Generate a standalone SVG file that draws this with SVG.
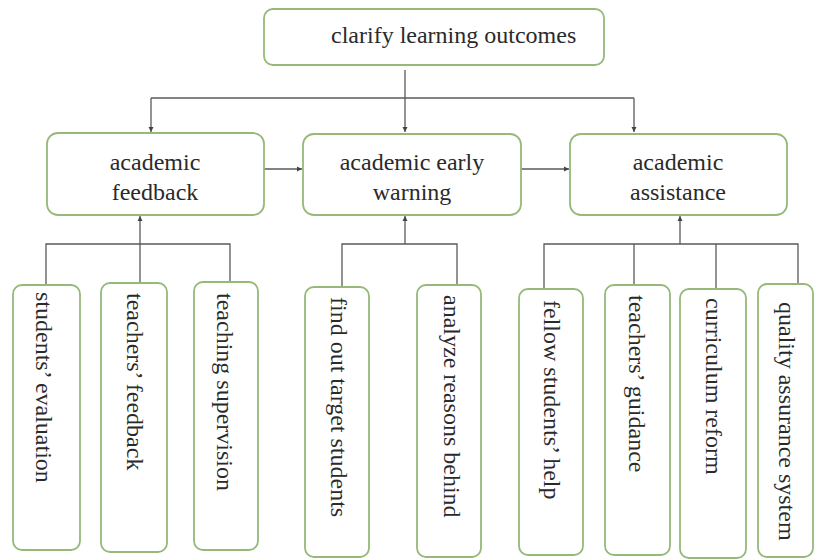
<svg xmlns="http://www.w3.org/2000/svg" width="815" height="559" viewBox="0 0 815 559">
<defs>
<marker id="arr" markerUnits="userSpaceOnUse" markerWidth="6" markerHeight="6" refX="5" refY="3" orient="auto">
<path d="M0,0.5 L5,3 L0,5.5 Z" fill="#444"/>
</marker>
<style>
.box{fill:#fff;stroke:#96b97a;stroke-width:1.8}
.c{fill:none;stroke:#5a5a5a;stroke-width:1.3}
.t{font-family:"Liberation Serif","Times New Roman",serif;font-size:24px;fill:#2a2a2a}
.m{text-anchor:middle}
</style>
</defs>
<rect width="815" height="559" fill="#fff"/>
<g id="connectors">
<path class="c" d="M405,70 V132" marker-end="url(#arr)"/>
<path class="c" d="M151,98 H634"/>
<path class="c" d="M151,98 V132" marker-end="url(#arr)"/>
<path class="c" d="M634,98 V132" marker-end="url(#arr)"/>
<path class="c" d="M264,169 H302" marker-end="url(#arr)"/>
<path class="c" d="M521,169 H569" marker-end="url(#arr)"/>
<path class="c" d="M46,285 V244 H230 V282"/>
<path class="c" d="M140,283 V216" marker-end="url(#arr)"/>
<path class="c" d="M342,287 V244 H457 V285"/>
<path class="c" d="M405,244 V216" marker-end="url(#arr)"/>
<path class="c" d="M544,289 V244 H798 V285"/>
<path class="c" d="M634,244 V285"/>
<path class="c" d="M716,244 V289"/>
<path class="c" d="M680,244 V216" marker-end="url(#arr)"/>
</g>
<g id="n-clarify"><rect class="box" x="264" y="9" width="340" height="56" rx="9"/><text class="t" x="331" y="43">clarify learning outcomes</text></g>
<g id="n-feedback"><rect class="box" x="47" y="133" width="217" height="82" rx="11"/><text class="t m" x="155" y="170">academic</text><text class="t m" x="155" y="200">feedback</text></g>
<g id="n-warning"><rect class="box" x="303" y="134" width="218" height="81" rx="11"/><text class="t m" x="412" y="170">academic early</text><text class="t m" x="412" y="200">warning</text></g>
<g id="n-assistance"><rect class="box" x="570" y="134" width="217" height="81" rx="11"/><text class="t m" x="678" y="170">academic</text><text class="t m" x="678" y="200">assistance</text></g>
<g id="n-l1"><rect class="box" x="13" y="285" width="67" height="265" rx="9"/><text class="t" transform="translate(36,292) rotate(90)">students’ evaluation</text></g>
<g id="n-l2"><rect class="box" x="101" y="283" width="66" height="269" rx="9"/><text class="t" transform="translate(127,293) rotate(90)">teachers’ feedback</text></g>
<g id="n-l3"><rect class="box" x="194" y="282" width="64" height="268" rx="9"/><text class="t" transform="translate(217,293) rotate(90)">teaching supervision</text></g>
<g id="n-l4"><rect class="box" x="305" y="287" width="64" height="270" rx="9"/><text class="t" transform="translate(331,297) rotate(90)">find out target students</text></g>
<g id="n-l5"><rect class="box" x="417" y="285" width="64" height="272" rx="9"/><text class="t" transform="translate(444,295) rotate(90)">analyze reasons behind</text></g>
<g id="n-l6"><rect class="box" x="519" y="289" width="64" height="266" rx="9"/><text class="t" transform="translate(544,300) rotate(90)">fellow students’ help</text></g>
<g id="n-l7"><rect class="box" x="605" y="285" width="65" height="270" rx="9"/><text class="t" transform="translate(629,295) rotate(90)">teachers’ guidance</text></g>
<g id="n-l8"><rect class="box" x="680" y="289" width="66" height="269" rx="9"/><text class="t" transform="translate(706,298) rotate(90)">curriculum reform</text></g>
<g id="n-l9"><rect class="box" x="758" y="284" width="55" height="273" rx="9"/><text class="t" transform="translate(779,302) rotate(90)">quality assurance system</text></g>
</svg>
